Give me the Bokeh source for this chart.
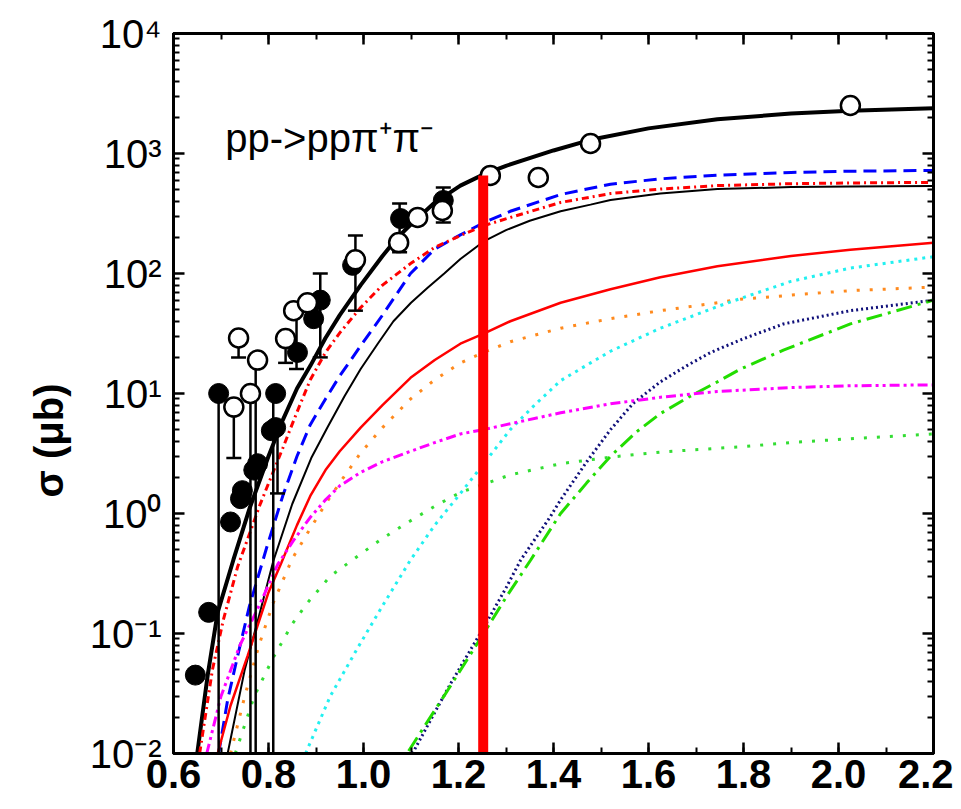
from bokeh.plotting import figure
from bokeh.models import FixedTicker, LinearAxis, LogAxis, Label, Title
from bokeh.embed import file_html
from bokeh.resources import INLINE

# ---------------- data ----------------
# theory curves: x = beam energy (GeV), y = cross section (micro-barn)
total_x = [0.650, 0.672, 0.693, 0.726, 0.76, 0.80, 0.83, 0.86, 0.888, 0.92, 0.95, 0.994, 1.04, 1.072, 1.099, 1.15, 1.204, 1.253, 1.30, 1.40, 1.478, 1.60, 1.745, 1.90, 2.025, 2.20]
total_y = [0.01, 0.045, 0.15, 0.41, 1.1, 3.0, 6.0, 11, 17, 29, 45, 80, 140, 200, 255, 390, 540, 670, 790, 1060, 1300, 1620, 1930, 2150, 2270, 2380]

blue_x = [0.695, 0.714, 0.735, 0.76, 0.798, 0.83, 0.86, 0.888, 0.92, 0.95, 0.994, 1.04, 1.099, 1.15, 1.204, 1.253, 1.309, 1.415, 1.52, 1.625, 1.745, 1.90, 2.025, 2.20]
blue_y = [0.01, 0.028, 0.065, 0.17, 0.55, 1.4, 3.0, 5.5, 9, 14, 25, 45, 100, 160, 210, 265, 330, 455, 555, 615, 660, 695, 712, 722]

reddd_x = [0.655, 0.682, 0.705, 0.735, 0.783, 0.83, 0.86, 0.888, 0.92, 0.95, 0.994, 1.04, 1.099, 1.15, 1.204, 1.253, 1.309, 1.415, 1.52, 1.625, 1.745, 1.90, 2.025, 2.20]
reddd_y = [0.01, 0.05, 0.13, 0.36, 1.21, 3.5, 7, 13, 22, 32, 52, 80, 121, 165, 207, 250, 293, 391, 464, 505, 540, 560, 568, 575]

thin_x = [0.714, 0.75, 0.78, 0.81, 0.85, 0.89, 0.924, 0.96, 0.994, 1.03, 1.063, 1.10, 1.135, 1.17, 1.204, 1.253, 1.30, 1.35, 1.415, 1.478, 1.52, 1.625, 1.745, 1.90, 2.025, 2.20]
thin_y = [0.01, 0.05, 0.14, 0.4, 1.2, 2.9, 5.2, 9.5, 16, 26, 40, 57, 76, 100, 132, 185, 230, 275, 330, 375, 410, 465, 505, 525, 532, 536]

reds_x = [0.693, 0.72, 0.756, 0.80, 0.826, 0.86, 0.888, 0.92, 0.95, 0.994, 1.04, 1.099, 1.15, 1.204, 1.253, 1.309, 1.415, 1.52, 1.625, 1.745, 1.90, 2.025, 2.20]
reds_y = [0.01, 0.025, 0.065, 0.22, 0.38, 0.8, 1.4, 2.3, 3.3, 5.2, 8, 13.5, 19, 26, 31.6, 40, 57, 74, 93, 115, 140, 158, 180]

orange_x = [0.72, 0.75, 0.78, 0.81, 0.85, 0.888, 0.92, 0.95, 0.994, 1.04, 1.099, 1.15, 1.204, 1.253, 1.309, 1.415, 1.52, 1.625, 1.745, 1.794, 1.90, 2.025, 2.20]
orange_y = [0.01, 0.03, 0.08, 0.18, 0.42, 0.75, 1.2, 1.8, 3.2, 5.2, 9, 13, 18, 22, 27, 35, 42, 49, 57, 61, 66, 72, 77]

magenta_x = [0.67, 0.70, 0.74, 0.783, 0.82, 0.853, 0.888, 0.92, 0.95, 0.994, 1.04, 1.099, 1.15, 1.204, 1.253, 1.309, 1.415, 1.52, 1.625, 1.745, 1.90, 2.025, 2.20]
magenta_y = [0.01, 0.03, 0.08, 0.18, 0.38, 0.6, 0.93, 1.3, 1.7, 2.2, 2.7, 3.3, 3.9, 4.6, 5.0, 5.6, 6.9, 8.2, 9.3, 10.4, 11.2, 11.6, 11.8]

gdot_x = [0.73, 0.77, 0.81, 0.85, 0.882, 0.93, 0.994, 1.04, 1.099, 1.15, 1.204, 1.253, 1.309, 1.415, 1.52, 1.625, 1.794, 1.90, 2.025, 2.20]
gdot_y = [0.01, 0.03, 0.063, 0.12, 0.18, 0.3, 0.46, 0.62, 0.87, 1.15, 1.5, 1.75, 2.1, 2.6, 2.95, 3.25, 3.6, 3.9, 4.2, 4.6]

cyan_x = [0.878, 0.93, 0.987, 1.04, 1.099, 1.15, 1.204, 1.253, 1.309, 1.36, 1.415, 1.478, 1.52, 1.625, 1.745, 1.794, 1.90, 2.025, 2.20]
cyan_y = [0.01, 0.03, 0.075, 0.17, 0.41, 0.8, 1.47, 2.6, 5.0, 8.0, 12.8, 18, 22.5, 35, 53, 62, 86, 111, 138]

navy_x = [1.103, 1.15, 1.183, 1.253, 1.30, 1.331, 1.394, 1.415, 1.47, 1.52, 1.568, 1.625, 1.68, 1.731, 1.794, 1.884, 2.025, 2.20]
navy_y = [0.01, 0.022, 0.038, 0.112, 0.24, 0.41, 0.95, 1.3, 2.7, 5.0, 8.3, 12.5, 17, 22, 28, 38, 49, 60]

gdd_x = [1.095, 1.18, 1.253, 1.30, 1.352, 1.415, 1.47, 1.52, 1.575, 1.625, 1.688, 1.745, 1.794, 1.884, 2.025, 2.20]
gdd_y = [0.0105, 0.035, 0.1, 0.2, 0.41, 1.0, 1.8, 3.0, 4.8, 6.8, 9.5, 12.5, 16, 23, 38, 60]

# experimental points
filled_x = [0.646, 0.674, 0.695, 0.720, 0.741, 0.745, 0.769, 0.777, 0.806, 0.815, 0.815, 0.861, 0.895, 0.909, 0.977, 1.078, 1.168]
filled_y = [0.045, 0.15, 10, 0.85, 1.33, 1.55, 2.3, 2.6, 4.9, 10, 5.2, 22, 42, 60, 117, 287, 406]

open_x = [0.727, 0.737, 0.762, 0.777, 0.836, 0.853, 0.882, 0.983, 1.074, 1.114, 1.166, 1.267, 1.368, 1.478, 2.025]
open_y = [7.7, 29, 10, 19, 28.7, 49, 57, 130, 181, 293, 335, 656, 631, 1211, 2512]

# error bars with caps
cap_x = [0.727, 0.737, 0.819, 0.836, 0.859, 0.909, 0.983, 1.076, 1.168]
cap_lo = [2.9, 20, 1.47, 18, 16, 20, 49, 150, 266]
cap_hi = [7.7, 29, 5.2, 28.7, 49, 100, 207, 383, 521]

# error bars running down to the bottom of the plot
low_x = [0.695, 0.762, 0.773, 0.810]
low_top = [10, 10, 19, 10]

# vertical red marker
marker_x = [1.252]
marker_top = [656]

x_ticks = [0.6, 0.8, 1.0, 1.2, 1.4, 1.6, 1.8, 2.0, 2.2]
x_tick_labels = ["0.6", "0.8", "1.0", "1.2", "1.4", "1.6", "1.8", "2.0", "2.2"]
y_ticks = [1e-2, 1e-1, 1e0, 1e1, 1e2, 1e3, 1e4]
y_tick_labels = ["10\u207b\u00b2", "10\u207b\u00b9", "10\u2070", "10\u00b9", "10\u00b2", "10\u00b3", "10\u2074"]

X_MIN, X_MAX = 0.6, 2.2
Y_MIN, Y_MAX = 1e-2, 1e4

# ---------------- figure ----------------
p = figure(width=953, height=805, x_range=(X_MIN, X_MAX), y_range=(Y_MIN, Y_MAX),
           y_axis_type="log", output_backend="svg", toolbar_location=None,
           min_border_left=173, min_border_right=20, min_border_top=33, min_border_bottom=52)
p.grid.visible = False
p.outline_line_color = "black"
p.outline_line_width = 3
p.background_fill_color = "white"
p.border_fill_color = "white"

x_minor = [round(X_MIN + 0.1 * i, 2) for i in range(17)]
y_minor = [k * 10.0 ** e for e in range(-2, 4) for k in range(2, 10)]

FONT = "Liberation Sans"

def style_axis(ax, labels=True):
    ax.axis_line_color = "black"
    ax.axis_line_width = 3
    ax.major_tick_in = 11
    ax.major_tick_out = 0
    ax.minor_tick_in = 6
    ax.minor_tick_out = 0
    ax.major_tick_line_width = 2.5
    ax.minor_tick_line_width = 2
    ax.major_tick_line_color = "black"
    ax.minor_tick_line_color = "black"
    if not labels:
        ax.major_label_text_color = None
        ax.major_label_text_font_size = "10px"
        ax.major_label_standoff = 0

xa = p.xaxis[0]
xa.ticker = FixedTicker(ticks=x_ticks, minor_ticks=x_minor)
xa.major_label_overrides = {t: s for t, s in zip(x_ticks, x_tick_labels)}
style_axis(xa)
xa.major_label_text_font = FONT
xa.major_label_text_font_style = "bold"
xa.major_label_text_font_size = "40px"
xa.major_label_text_color = "black"
xa.major_label_standoff = 6

ya = p.yaxis[0]
ya.ticker = FixedTicker(ticks=y_ticks, minor_ticks=y_minor)
ya.major_label_overrides = {t: s for t, s in zip(y_ticks, y_tick_labels)}
style_axis(ya)
ya.major_label_text_font = FONT
ya.major_label_text_font_size = "40px"
ya.major_label_text_color = "black"
ya.major_label_standoff = 12

top = LinearAxis(ticker=FixedTicker(ticks=x_ticks, minor_ticks=x_minor))
style_axis(top, labels=False)
p.add_layout(top, "above")
right = LogAxis(ticker=FixedTicker(ticks=y_ticks, minor_ticks=y_minor))
style_axis(right, labels=False)
p.add_layout(right, "right")

# y-axis title, placed in the left panel
ytitle = Title(text="\u03c3 (\u03bcb)", align="left", offset=256, vertical_align="middle",
               text_font=FONT, text_font_style="bold", text_font_size="40px",
               text_color="black", standoff=30)
p.add_layout(ytitle, "left")

# ---------------- curves ----------------
p.line(total_x, total_y, line_color="black", line_width=4)
p.line(blue_x, blue_y, line_color="#0000ff", line_width=3, line_dash="13 7")
p.line(reddd_x, reddd_y, line_color="#ff0000", line_width=3, line_dash="7 4 2 4")
p.line(thin_x, thin_y, line_color="black", line_width=2)
p.line(reds_x, reds_y, line_color="#ff0000", line_width=2.5)
p.line(orange_x, orange_y, line_color="#ff8a1e", line_width=3, line_dash="3 10")
p.line(cyan_x, cyan_y, line_color="#22f0f0", line_width=3, line_dash="3 5")
p.line(navy_x, navy_y, line_color="#10107a", line_width=3, line_dash="2 3")
p.line(gdd_x, gdd_y, line_color="#22dd00", line_width=3, line_dash="16 6 3 6")
p.line(magenta_x, magenta_y, line_color="#ff00ff", line_width=3, line_dash="10 4 3 4 3 4")
p.line(gdot_x, gdot_y, line_color="#33dd33", line_width=3, line_dash="3 10")

# ---------------- error bars & points ----------------
p.segment(x0=low_x, y0=[Y_MIN] * len(low_x), x1=low_x, y1=low_top, line_color="black", line_width=2.5)
p.segment(x0=cap_x, y0=cap_lo, x1=cap_x, y1=cap_hi, line_color="black", line_width=2.5)
p.scatter(cap_x, cap_lo, marker="dash", size=15, line_color="black", line_width=2.5)
p.scatter(cap_x, cap_hi, marker="dash", size=15, line_color="black", line_width=2.5)

p.scatter(filled_x, filled_y, marker="circle", size=20, fill_color="black", line_color="black", line_width=1)
p.scatter(open_x, open_y, marker="circle", size=19, fill_color="white", line_color="black", line_width=2.5)

# ---------------- red vertical marker ----------------
p.segment(x0=marker_x, y0=[Y_MIN] * len(marker_x), x1=marker_x, y1=marker_top,
          line_color="#ff0000", line_width=10)

# ---------------- texts ----------------
p.add_layout(Label(x=0.709, y=1334, text="pp->pp\u03c0\u207a\u03c0\u207b", text_font=FONT,
                   text_font_size="40px", text_color="black", text_baseline="alphabetic",
                   text_align="left"))

open("out.html", "w").write(file_html(p, INLINE))
